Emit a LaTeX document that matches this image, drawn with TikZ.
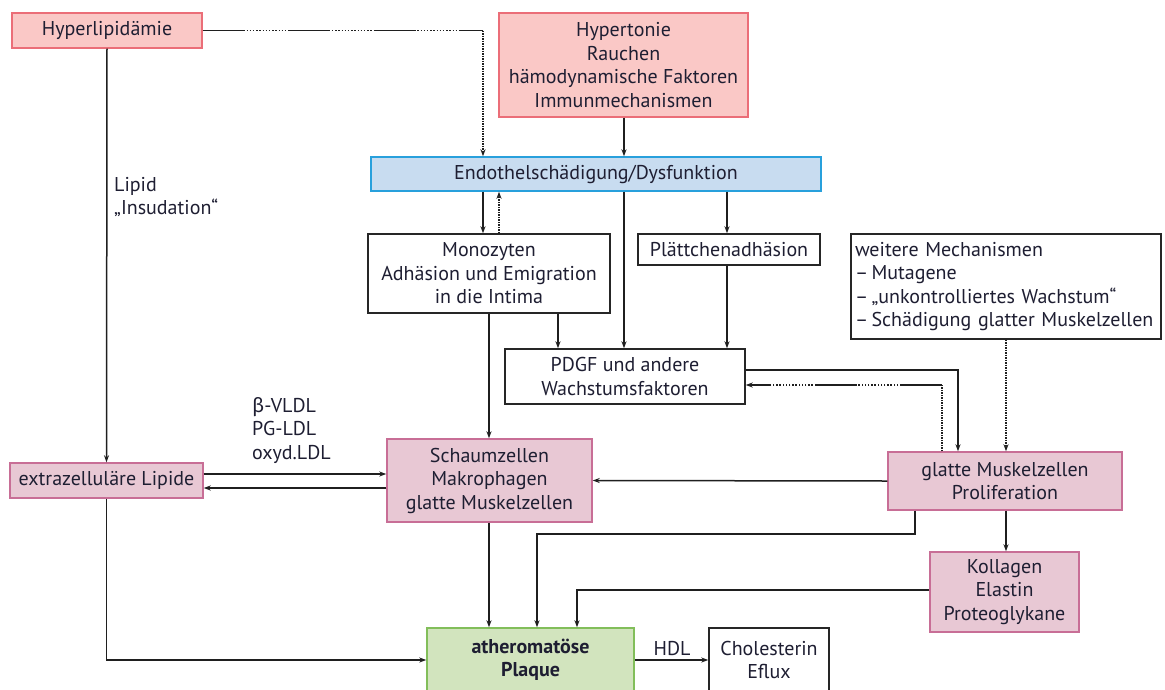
\documentclass[tikz,border=0pt]{standalone}
\usepackage{fontspec}
\setmainfont{PT Sans}
\newfontfamily\greekfont{Fira Sans}
\usetikzlibrary{arrows.meta}
\definecolor{redfill}{RGB}{250,200,198}
\definecolor{redline}{RGB}{235,110,120}
\definecolor{bluefill}{RGB}{200,220,240}
\definecolor{blueline}{RGB}{40,160,220}
\definecolor{rosefill}{RGB}{232,200,212}
\definecolor{roseline}{RGB}{200,110,150}
\definecolor{greenfill}{RGB}{210,228,190}
\definecolor{greenline}{RGB}{130,190,90}
\definecolor{inktext}{RGB}{30,30,50}

\begin{document}
\begin{tikzpicture}[
	x=1pt, y=-1pt,
	every node/.style={font=\fontsize{20}{23.5}\selectfont, text=inktext, align=center, inner sep=0pt},
	box/.style={draw, line width=1.4pt},
	redbox/.style={box, draw=redline, fill=redfill},
	bluebox/.style={box, draw=blueline, fill=bluefill},
	rosebox/.style={box, draw=roseline, fill=rosefill},
	greenbox/.style={box, draw=greenline, fill=greenfill},
	plainbox/.style={box, draw=black!85, fill=white},
	arr/.style={-{Stealth[length=7pt,width=5pt]}, line width=1.5pt, draw=black!88},
	dotarr/.style={arr, densely dotted},
	mixline/.style={line width=1.5pt, draw=black!88,
		dash pattern=on 42pt off 1.8pt on 1.4pt off 1.8pt on 1.4pt off 1.8pt on 1.4pt off 1.8pt on 1.4pt off 1.8pt on 1.4pt off 1.8pt on 1.4pt off 1.8pt on 1.4pt off 1.8pt on 1.4pt off 1.8pt on 1.4pt off 1.8pt on 1.4pt off 1.8pt on 1.4pt off 1.8pt on 1.4pt off 1.8pt on 1.4pt off 1.8pt}]
\useasboundingbox (0,0) rectangle (1165,689);

% boxes
\node[redbox, minimum width=190pt, minimum height=35pt] (hyper) at (107,30.5) {Hyperlipidämie};
\node[redbox, minimum width=249pt, minimum height=104pt] (risk) at (623.5,65)
	{Hypertonie\\Rauchen\\hämodynamische Faktoren\\Immunmechanismen};
\node[bluebox, minimum width=450pt, minimum height=34pt] (endo) at (596,174) {Endothelschädigung/Dysfunktion};
\node[plainbox, minimum width=242pt, minimum height=79pt] (mono) at (489,273.5)
	{Monozyten\\Adhäsion und Emigration\\in die Intima};
\node[plainbox, minimum width=182pt, minimum height=31pt] (platt) at (729,249.5) {Plättchenadhäsion};
\node[plainbox, minimum width=310pt, minimum height=105pt, align=left, text width=302pt] (weitere) at (1006,286.5)
	{weitere Mechanismen\\–\,Mutagene\\–\,„unkontrolliertes Wachstum“\\–\,Schädigung glatter Muskelzellen};
\node[plainbox, minimum width=240pt, minimum height=55pt] (pdgf) at (625,376.5) {PDGF und andere\\Wachstumsfaktoren};
\node[rosebox, minimum width=205pt, minimum height=83pt] (schaum) at (489.5,480.5)
	{Schaumzellen\\Makrophagen\\glatte Muskelzellen};
\node[rosebox, minimum width=193pt, minimum height=35pt] (extra) at (106.5,480.5) {extrazelluläre Lipide};
\node[rosebox, minimum width=234pt, minimum height=58pt] (glatt) at (1005,481) {glatte Muskelzellen\\Proliferation};
\node[rosebox, minimum width=149pt, minimum height=80pt] (koll) at (1004.5,592) {Kollagen\\Elastin\\Proteoglykane};
\node[greenbox, minimum width=207pt, minimum height=64pt, font=\fontsize{20}{23.5}\selectfont\bfseries] (plaque) at (530.5,660) {atheromatöse\\Plaque};
\node[plainbox, minimum width=120pt, minimum height=64pt] (chol) at (769,660) {Cholesterin\\Eflux};

% labels
\node[anchor=north west, align=left] (insud) at (114,177) {Lipid\\„Insudation“};
\node[anchor=north west, align=left] (ldl) at (252,397) {{\greekfont β}-VLDL\\PG-LDL\\oxyd.LDL};
\node[anchor=south] (hdl) at (672,656) {HDL};

% columns and rows
\coordinate (cA) at (483,0);
\coordinate (cB) at (499,0);
\coordinate (cC) at (624,0);
\coordinate (cD) at (727,0);
\coordinate (cE) at (558,0);
\coordinate (cF) at (489,0);
\coordinate (cG) at (958,0);
\coordinate (cH) at (942,0);
\coordinate (cI) at (1006,0);
\coordinate (cK) at (915,0);
\coordinate (cL) at (537,0);
\coordinate (cM) at (577,0);
\coordinate (rA) at (0,370);
\coordinate (rB) at (0,385);
\coordinate (rC) at (0,474);
\coordinate (rD) at (0,488);
\coordinate (rE) at (0,534);
\coordinate (rF) at (0,590);
\coordinate (hk) at (hyper.east -| cA);
\coordinate (gk) at (cH |- rB);

% connectors
\draw[mixline] (hyper.east) -- (hk);
\draw[dotarr] (hk) -- (cA |- endo.north);
\draw[arr] (cC |- risk.south) -- (cC |- endo.north);
\draw[arr] (hyper.south) -- (extra.north);
\draw[arr] (cA |- endo.south) -- (cA |- mono.north);
\draw[dotarr] (cB |- mono.north) -- (cB |- endo.south);
\draw[arr] (cC |- endo.south) -- (cC |- pdgf.north);
\draw[arr] (cD |- endo.south) -- (cD |- platt.north);
\draw[arr] (cE |- mono.south) -- (cE |- pdgf.north);
\draw[arr] (cD |- platt.south) -- (cD |- pdgf.north);
\draw[arr] (cF |- mono.south) -- (cF |- schaum.north);
\draw[arr] (pdgf.east |- rA) -| (cG |- glatt.north);
\draw[densely dotted, line width=1.5pt, draw=black!88] (cH |- glatt.north) -- (gk);
\draw[mixline, -{Stealth[length=7pt,width=5pt]}] (gk) -- (pdgf.east |- rB);
\draw[dotarr] (cI |- weitere.south) -- (cI |- glatt.north);
\draw[arr] (glatt.west) -- (schaum.east);
\draw[arr] (extra.east |- rC) -- (schaum.west |- rC);
\draw[arr] (schaum.west |- rD) -- (extra.east |- rD);
\draw[arr] (cF |- schaum.south) -- (cF |- plaque.north);
\draw[arr] (cK |- glatt.south) |- (cL |- rE) -- (cL |- plaque.north);
\draw[arr] (cI |- glatt.south) -- (cI |- koll.north);
\draw[arr] (koll.west |- rF) -| (cM |- plaque.north);
\draw[arr] (extra.south) |- (plaque.west);
\draw[arr] (plaque.east) -- (chol.west);
\end{tikzpicture}
\end{document}
